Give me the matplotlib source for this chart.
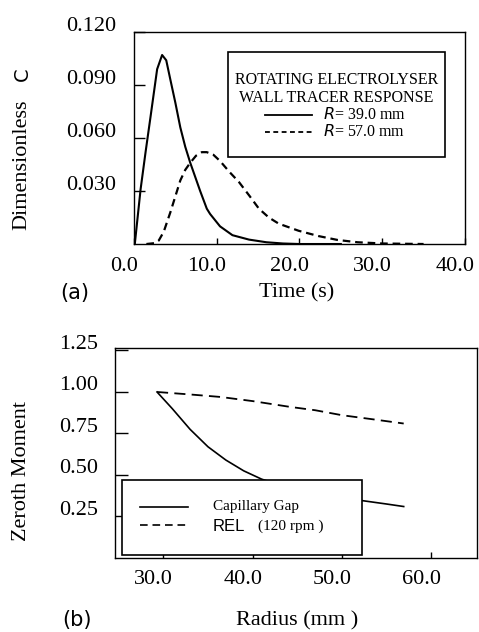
import matplotlib
matplotlib.use("Agg")
import matplotlib.pyplot as plt
from matplotlib.patches import Rectangle
from matplotlib.transforms import ScaledTranslation

plt.rcParams['font.family'] = 'Liberation Serif'
plt.rcParams['mathtext.fontset'] = 'custom'
plt.rcParams['mathtext.it'] = 'DejaVu Sans:italic'
plt.rcParams['lines.scale_dashes'] = False

## (a) tracer response at the wall, two radii
t_r39 = [0.1, 0.8, 1.4, 2.0, 2.8, 3.4, 3.9, 4.4, 5.0, 5.6, 6.2, 6.8, 7.4, 8.0,
         8.8, 9.2, 10.4, 11.9, 13.9, 16.0, 18.0, 20.0, 25.0]
c_r39 = [0.0, 0.031, 0.052, 0.072, 0.099, 0.107, 0.104, 0.093, 0.080, 0.066,
         0.055, 0.046, 0.038, 0.030, 0.020, 0.017, 0.010, 0.005, 0.0025, 0.001,
         0.0003, 0.0, 0.0]

t_r57 = [1.5, 2.5, 3.0, 3.6, 4.4, 5.0, 5.6, 6.2, 6.8, 7.5, 8.2, 8.8, 9.6, 10.4,
         11.5, 12.7, 14.0, 15.1, 16.3, 17.5, 19.9, 22.3, 24.6, 27.0, 30.0, 35.0]
c_r57 = [0.0, 0.0005, 0.002, 0.007, 0.018, 0.027, 0.036, 0.042, 0.046, 0.050,
         0.052, 0.052, 0.0505, 0.047, 0.041, 0.035, 0.027, 0.020, 0.015, 0.0115,
         0.0075, 0.0045, 0.0023, 0.001, 0.0003, 0.0]

## (b) zeroth moment against radius
r_cap = [29.3, 31.0, 33.0, 35.0, 37.0, 39.0, 41.0, 43.0, 45.0, 47.0, 49.0, 51.0,
         53.0, 55.0, 56.9]
m_cap = [1.0, 0.90, 0.775, 0.67, 0.59, 0.525, 0.475, 0.44, 0.415, 0.395, 0.375,
         0.355, 0.34, 0.325, 0.31]

r_rel = [29.3, 33.0, 36.4, 40.0, 44.2, 47.0, 50.0, 53.5, 56.9]
m_rel = [1.0, 0.985, 0.97, 0.945, 0.91, 0.89, 0.86, 0.835, 0.81]

xticks_a = [0, 10, 20, 30, 40]
yticks_a = [0.030, 0.060, 0.090, 0.120]
xticks_b = [30, 40, 50, 60]
yticks_b = [0.25, 0.50, 0.75, 1.00, 1.25]


def shift_labels(fig, ax, dx, dy):
    # the printed labels sit a little left of / above their ticks
    off_x = ScaledTranslation(dx / 100, 0, fig.dpi_scale_trans)
    off_y = ScaledTranslation(0, dy / 100, fig.dpi_scale_trans)
    for lab in ax.get_xticklabels():
        lab.set_transform(lab.get_transform() + off_x)
    for lab in ax.get_yticklabels():
        lab.set_transform(lab.get_transform() + off_y)


fig = plt.figure(figsize=(4.79, 6.32), dpi=100)
ax1 = fig.add_axes([0.2797, 0.6139, 0.6910, 0.3354])
ax2 = fig.add_axes([0.2401, 0.1171, 0.7557, 0.3323])

for ax in (ax1, ax2):
    for s in ax.spines.values():
        s.set_linewidth(1.0)

# ---- panel (a)
ax1.plot(t_r39, c_r39, color='black', lw=1.5, solid_joinstyle='round')
ax1.plot(t_r57, c_r57, color='black', lw=1.6, dashes=(5.5, 3.5))
ax1.set_xlim(0, 39.5)
ax1.set_ylim(0, 0.120)
ax1.set_xticks(xticks_a)
ax1.set_xticklabels(['%.1f' % v for v in xticks_a])
ax1.set_yticks(yticks_a)
ax1.set_yticklabels(['%.3f' % v for v in yticks_a])
ax1.tick_params(axis='x', direction='in', length=4, width=1, labelsize=16, pad=9)
ax1.tick_params(axis='y', direction='in', length=8, width=1, labelsize=16, pad=13)
shift_labels(fig, ax1, -10, 8.5)

# boxed key
ax1.add_patch(Rectangle((0.284, 0.410), 0.656, 0.496, transform=ax1.transAxes,
                        facecolor='white', edgecolor='black', lw=1.2, zorder=3))
ax1.text(0.612, 0.773, 'ROTATING ELECTROLYSER', transform=ax1.transAxes,
         ha='center', va='center', fontsize=11.5, zorder=4)
ax1.text(0.612, 0.688, 'WALL TRACER RESPONSE', transform=ax1.transAxes,
         ha='center', va='center', fontsize=11.5, zorder=4)
ax1.plot([0.396, 0.538], [0.608, 0.608], transform=ax1.transAxes,
         color='black', lw=1.3, zorder=4)
ax1.plot([0.396, 0.538], [0.528, 0.528], transform=ax1.transAxes,
         color='black', lw=1.3, dashes=(3.5, 2.5), zorder=4)
ax1.text(0.571, 0.608, r'$R$= 39.0 mm', transform=ax1.transAxes,
         ha='left', va='center', fontsize=11.5, zorder=4)
ax1.text(0.571, 0.528, r'$R$= 57.0 mm', transform=ax1.transAxes,
         ha='left', va='center', fontsize=11.5, zorder=4)

# ---- panel (b)
ax2.plot(r_cap, m_cap, color='black', lw=1.2)
ax2.plot(r_rel, m_rel, color='black', lw=1.3, dashes=(8, 4.5))
ax2.set_xlim(24.6, 65.1)
ax2.set_ylim(0, 1.265)
ax2.set_xticks(xticks_b)
ax2.set_xticklabels(['%.1f' % v for v in xticks_b])
ax2.set_yticks(yticks_b)
ax2.set_yticklabels(['%.2f' % v for v in yticks_b])
ax2.tick_params(axis='x', direction='in', length=4, width=1, labelsize=16, pad=9)
ax2.tick_params(axis='y', direction='in', length=9, width=1, labelsize=16, pad=12)
shift_labels(fig, ax2, -10, 8.5)

ax2.add_patch(Rectangle((0.0185, 0.014), 0.6625, 0.357, transform=ax2.transAxes,
                        facecolor='white', edgecolor='black', lw=1.2, zorder=3))
ax2.plot([0.069, 0.202], [0.244, 0.244], transform=ax2.transAxes,
         color='black', lw=1.2, zorder=4)
ax2.plot([0.069, 0.202], [0.157, 0.157], transform=ax2.transAxes,
         color='black', lw=1.2, dashes=(5.5, 3.5), zorder=4)
ax2.text(0.270, 0.244, 'Capillary Gap', transform=ax2.transAxes,
         ha='left', va='center', fontsize=11, zorder=4)
ax2.text(0.270, 0.152, 'REL', transform=ax2.transAxes, family='Liberation Sans',
         ha='left', va='center', fontsize=12, zorder=4)
ax2.text(0.395, 0.152, '(120 rpm )', transform=ax2.transAxes,
         ha='left', va='center', fontsize=11, zorder=4)

# axis titles and panel letters
fig.text(22 / 479, 1 - 165 / 632, 'Dimensionless', rotation=90,
         ha='center', va='center', fontsize=16)
fig.text(22 / 479, 1 - 74 / 632, 'C', rotation=90, family='DejaVu Sans',
         ha='center', va='center', fontsize=14)
fig.text(297 / 479, 1 - 293 / 632, 'Time (s)', ha='center', va='center', fontsize=16)
fig.text(75 / 479, 1 - 293 / 632, '(a)', family='DejaVu Sans',
         ha='center', va='center', fontsize=15)

fig.text(22 / 479, 1 - 471 / 632, 'Zeroth Moment', rotation=90,
         ha='center', va='center', fontsize=16)
fig.text(297 / 479, 1 - 621 / 632, 'Radius (mm )', ha='center', va='center', fontsize=16)
fig.text(77 / 479, 1 - 620 / 632, '(b)', family='DejaVu Sans',
         ha='center', va='center', fontsize=15)

fig.savefig('out.png', dpi=100, facecolor='white')
